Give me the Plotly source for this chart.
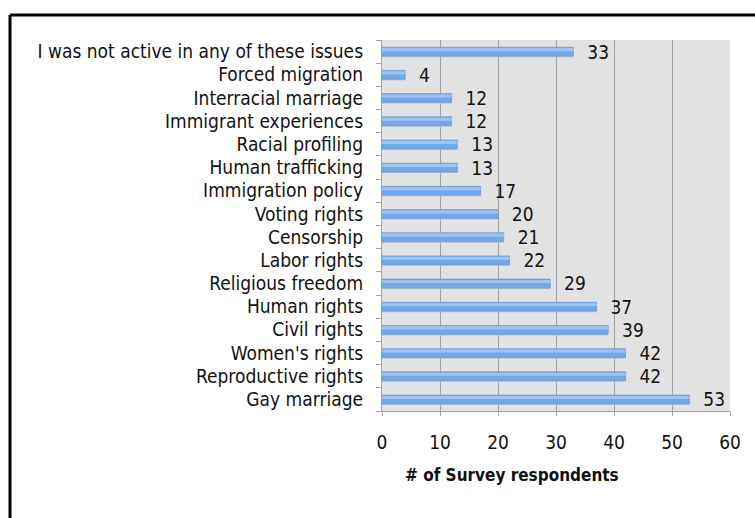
import plotly.graph_objects as go

categories = [
    "I was not active in any of these issues",
    "Forced migration",
    "Interracial marriage",
    "Immigrant experiences",
    "Racial profiling",
    "Human trafficking",
    "Immigration policy",
    "Voting rights",
    "Censorship",
    "Labor rights",
    "Religious freedom",
    "Human rights",
    "Civil rights",
    "Women's rights",
    "Reproductive rights",
    "Gay marriage",
]
respondents = [33, 4, 12, 12, 13, 13, 17, 20, 21, 22, 29, 37, 39, 42, 42, 53]
x_ticks = [0, 10, 20, 30, 40, 50, 60]
x_title = "# of Survey respondents"

FONT = "Liberation Sans Narrow, DejaVu Sans Condensed, Arial Narrow, sans-serif"

W, H = 755, 518
L, R, T, B = 382, 25, 40, 107
pw, ph = W - L - R, H - T - B

def px(x):
    return (x - L) / pw

def py(y):
    return (H - B - y) / ph

fig = go.Figure()
# soft shadow under each bar
fig.add_trace(go.Bar(
    y=categories, x=respondents, orientation="h",
    marker=dict(color="#bcbcbc", line=dict(width=0)),
    offset=-0.24, width=0.38, hoverinfo="skip",
))
# main bar
fig.add_trace(go.Bar(
    y=categories, x=respondents, orientation="h",
    marker=dict(color="#72a7e8", line=dict(color="#5f95da", width=0.6)),
    offset=-0.19, width=0.38,
    text=respondents,
    texttemplate="\u00a0\u00a0%{x}",
    textposition="outside",
    constraintext="none",
    textfont=dict(family=FONT, size=19, color="#111111"),
    cliponaxis=False,
))
# light highlight on upper half
fig.add_trace(go.Bar(
    y=categories, x=respondents, orientation="h",
    marker=dict(color="#9cc4f3", line=dict(width=0)),
    offset=0.02, width=0.13, hoverinfo="skip",
))

fig.update_layout(
    width=W, height=H,
    margin=dict(l=L, r=R, t=T, b=B),
    paper_bgcolor="white",
    plot_bgcolor="#e2e2e2",
    showlegend=False,
    barmode="overlay",
    font=dict(family=FONT, size=19, color="#111111"),
    xaxis=dict(
        range=[0, 60],
        tickvals=x_ticks,
        ticktext=[str(v) for v in x_ticks],
        showgrid=True, gridcolor="#a2a2a2", gridwidth=1.3,
        showline=True, linecolor="#a2a2a2", linewidth=1.3,
        ticks="outside", ticklen=4, tickcolor="#a2a2a2",
        ticklabelstandoff=10,
        tickfont=dict(family=FONT, size=19, color="#111111"),
        zeroline=False,
    ),
    yaxis=dict(
        categoryorder="array",
        categoryarray=categories[::-1],
        showline=True, linecolor="#a2a2a2", linewidth=1.3,
        ticks="outside", ticklen=5, tickcolor="#a2a2a2",
        tickson="boundaries",
        ticklabelstandoff=14,
        tickfont=dict(family=FONT, size=19, color="#111111"),
        showgrid=False,
    ),
    annotations=[dict(
        text="<b>" + x_title + "</b>",
        xref="paper", yref="paper",
        x=px(512), y=py(475),
        xanchor="center", yanchor="middle",
        showarrow=False,
        font=dict(family=FONT, size=17, color="#111111"),
    )],
    shapes=[
        dict(type="line", xref="paper", yref="paper",
             x0=px(10), x1=px(770), y0=py(15), y1=py(15),
             line=dict(color="black", width=3)),
        dict(type="line", xref="paper", yref="paper",
             x0=px(10), x1=px(10), y0=py(15), y1=py(530),
             line=dict(color="black", width=3)),
    ],
)

fig.write_html("out.html", config={"displayModeBar": False},
               post_script="document.body.style.margin='0';")
